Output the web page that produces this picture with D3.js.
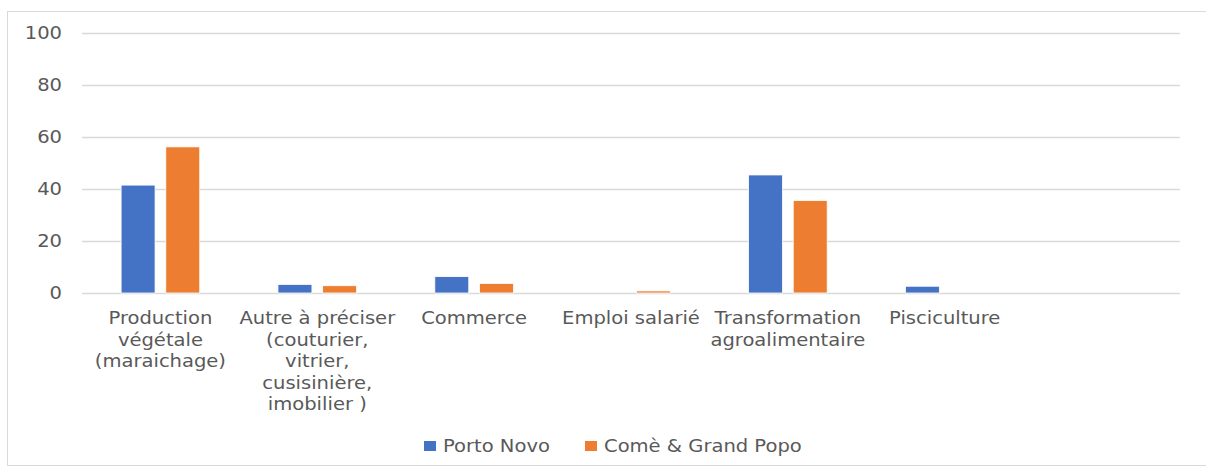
<!DOCTYPE html>
<html>
<head>
<meta charset="utf-8">
<script src="https://cdn.jsdelivr.net/npm/d3@7"></script>
<style>
  body { margin: 0; background: #fff; }
  text { font-family: "DejaVu Sans", sans-serif; fill: #595959; }
</style>
</head>
<body>
<script>
// data
const categories = [
  ["Production", "végétale", "(maraichage)"],
  ["Autre à préciser", "(couturier,", "vitrier,", "cusisinière,", "imobilier )"],
  ["Commerce"],
  ["Emploi salarié"],
  ["Transformation", "agroalimentaire"],
  ["Pisciculture"],
  [""]
];
const seriesNames = ["Porto Novo", "Comè & Grand Popo"];
const portoNovo = [41.5, 3.3, 6.3, 0, 45.4, 2.6, 0];
const comeGrandPopo = [56.2, 2.8, 3.7, 0.8, 35.6, 0, 0];
const yTicks = [0, 20, 40, 60, 80, 100];
const colors = ["#4472C4", "#ED7D31"];

const width = 1206, height = 468;
const margin = { top: 33, right: 26, bottom: 175, left: 82 };
const stretch = 1.15; // the original text is drawn a little wide

const svg = d3.select("body").append("svg")
  .attr("width", width)
  .attr("height", height);

// chart frame
svg.append("rect")
  .attr("x", 7.5).attr("y", 11.5)
  .attr("width", 1200).attr("height", 454)
  .attr("fill", "none")
  .attr("stroke", "#D9D9D9");

const x = d3.scaleBand()
  .domain(d3.range(categories.length))
  .range([margin.left, width - margin.right]);

const y = d3.scaleLinear()
  .domain([0, 100])
  .range([height - margin.bottom, margin.top]);

const xs = d3.scaleBand()
  .domain([0, 1])
  .range([0, x.bandwidth()])
  .paddingInner(0.24)
  .paddingOuter(0.875);

// gridlines
svg.append("g")
  .selectAll("line")
  .data(yTicks)
  .join("line")
  .attr("x1", margin.left)
  .attr("x2", width - margin.right)
  .attr("y1", d => Math.round(y(d)) + 0.5)
  .attr("y2", d => Math.round(y(d)) + 0.5)
  .attr("stroke", "#D9D9D9")
  .attr("stroke-width", 1.5);

// y labels
svg.append("g")
  .selectAll("text")
  .data(yTicks)
  .join("text")
  .attr("transform", d => `translate(62,${y(d)}) scale(${stretch},1)`)
  .attr("dy", "0.36em")
  .attr("text-anchor", "end")
  .attr("font-size", 17)
  .text(d => d);

// bars
const rows = categories.map((c, i) => [portoNovo[i], comeGrandPopo[i]]);
svg.append("g")
  .selectAll("g")
  .data(rows)
  .join("g")
  .attr("transform", (d, i) => `translate(${x(i)},0)`)
  .selectAll("rect")
  .data(d => d.map((v, s) => ({ v, s })))
  .join("rect")
  .attr("x", d => xs(d.s))
  .attr("width", xs.bandwidth())
  .attr("y", d => y(d.v))
  .attr("height", d => y(0) - y(d.v))
  .attr("fill", d => colors[d.s])
  .attr("stroke", "#fff")
  .attr("stroke-width", d => d.v > 0 ? 0.8 : 0);

// category labels
svg.append("g")
  .selectAll("text")
  .data(categories)
  .join("text")
  .attr("transform", (d, i) => `translate(${x(i) + x.bandwidth() / 2},324) scale(${stretch},1)`)
  .attr("text-anchor", "middle")
  .attr("font-size", 17)
  .selectAll("tspan")
  .data(d => d)
  .join("tspan")
  .attr("x", 0)
  .attr("dy", (d, i) => i === 0 ? 0 : 21.6)
  .text(d => d);

// legend
const legendX = [424, 585];
const legend = svg.append("g")
  .selectAll("g")
  .data(seriesNames)
  .join("g")
  .attr("transform", (d, i) => `translate(${legendX[i]},441)`);
legend.append("rect")
  .attr("width", 12).attr("height", 10)
  .attr("fill", (d, i) => colors[i]);
legend.append("text")
  .attr("transform", `translate(19,5) scale(${stretch},1)`)
  .attr("dy", "0.36em")
  .attr("font-size", 17)
  .text(d => d);
</script>
</body>
</html>
